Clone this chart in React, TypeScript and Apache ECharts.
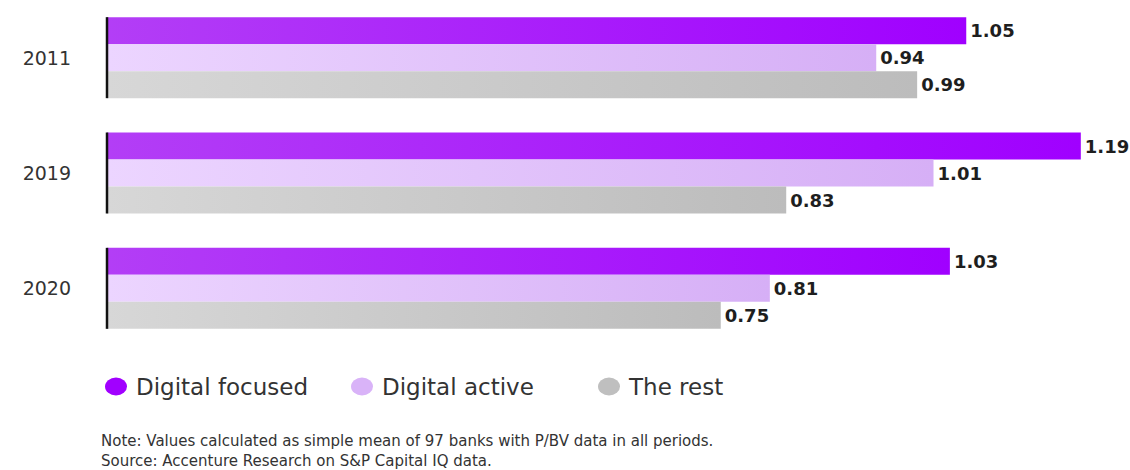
import React, { useEffect, useRef } from "react";
import * as echarts from "echarts";

const categories = ["2011", "2019", "2020"];
const seriesNames = ["Digital focused", "Digital active", "The rest"];
const digitalFocused = [1.05, 1.19, 1.03];
const digitalActive = [0.94, 1.01, 0.81];
const theRest = [0.99, 0.83, 0.75];
const noteLines = [
  "Note: Values calculated as simple mean of 97 banks with P/BV data in all periods.",
  "Source: Accenture Research on S&P Capital IQ data.",
];

const FONT = "DejaVu Sans";

const grad = (a: string, b: string) =>
  new echarts.graphic.LinearGradient(0, 0, 1, 0, [
    { offset: 0, color: a },
    { offset: 1, color: b },
  ]);

export default function App() {
  const ref = useRef<HTMLDivElement>(null);
  useEffect(() => {
    if (!ref.current) return;
    const chart = echarts.init(ref.current, null, { renderer: "svg" });
    const label = {
      show: true,
      position: "right",
      distance: 4,
      fontFamily: FONT,
      fontWeight: 900,
      fontSize: 18,
      color: "#1e1e1e",
      formatter: (p: any) => p.value.toFixed(2),
    };
    const mkBar = (name: string, data: number[], c: any) => ({
      name,
      type: "bar",
      data,
      barWidth: 27,
      barGap: "0%",
      itemStyle: { color: c },
      label,
    });
    const legendColors = ["#a100ff", "#d9b3f8", "#bfbfbf"];
    const legendLefts = [100, 346, 593];
    const icon = "path://M0,9 A11,9 0 1,0 22,9 A11,9 0 1,0 0,9 Z";
    chart.setOption({
      animation: false,
      color: legendColors,
      grid: { left: 107, right: 41, top: 0, height: 346, containLabel: false },
      xAxis: { type: "value", min: 0, max: 1.2, show: false },
      yAxis: {
        type: "category",
        inverse: true,
        data: categories,
        axisLine: { show: false },
        axisTick: { show: false },
        axisLabel: { fontFamily: FONT, fontSize: 19, color: "#333", margin: 36 },
      },
      legend: seriesNames.map((n, i) => ({
        data: [{ name: n, icon, itemStyle: { color: legendColors[i] } }],
        left: legendLefts[i],
        top: 370,
        itemWidth: 22,
        itemHeight: 18,
        itemGap: 14,
        textStyle: { fontFamily: FONT, fontSize: 23, color: "#333", padding: [0, 0, 0, 4] },
        selectedMode: false,
      })),
      series: [
        mkBar(seriesNames[0], digitalFocused, grad("#b33ef6", "#a000ff")),
        mkBar(seriesNames[1], digitalActive, grad("#ecd5ff", "#d6aff6")),
        mkBar(seriesNames[2], theRest, grad("#d7d7d7", "#bcbcbc")),
        {
          type: "custom",
          name: "axis",
          data: categories.map((_, i) => [0, i]),
          encode: { x: 0, y: 1 },
          z: 10,
          silent: true,
          renderItem: (params: any, api: any) => {
            const p = api.coord([api.value(0), api.value(1)]);
            const half = 40.5;
            return {
              type: "line",
              shape: { x1: p[0], y1: p[1] - half, x2: p[0], y2: p[1] + half },
              style: { stroke: "#111", lineWidth: 2.5 },
            };
          },
        },
      ],
      graphic: noteLines.map((t, i) => ({
        type: "text",
        left: 101,
        top: 433 + i * 20,
        style: { text: t, fontFamily: FONT, fontSize: 15, fill: "#333" },
      })),
    });
    return () => chart.dispose();
  }, []);
  return (
    <div
      ref={ref}
      style={{ position: "fixed", left: 0, top: 0, width: 1130, height: 470, background: "#fff" }}
    />
  );
}
